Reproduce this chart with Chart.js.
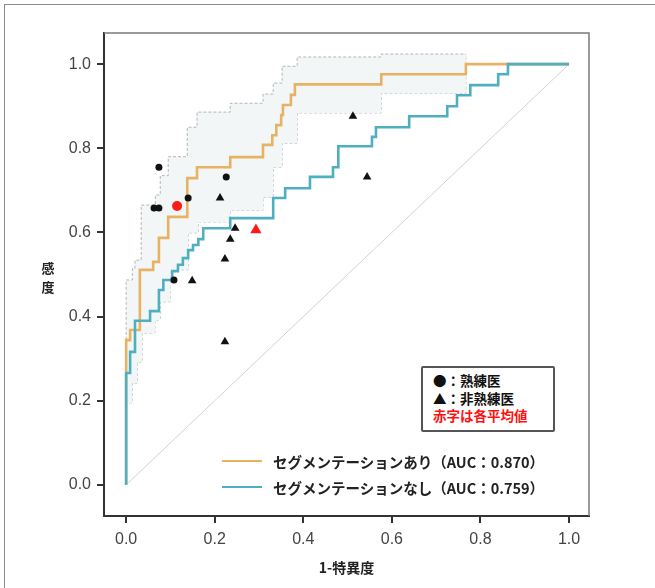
<!DOCTYPE html>
<html lang="ja">
<head>
<meta charset="utf-8">
<script src="https://cdn.jsdelivr.net/npm/chart.js@4.4.1/dist/chart.umd.min.js"></script>
<style>
  body { margin: 0; background: #fff; }
  #wrap { position: relative; width: 655px; height: 588px; overflow: hidden; }
  #roc { position: absolute; left: 0; top: 0; }
  .frame { position: absolute; left: 4px; top: 4px; width: 700px; height: 700px;
    border-left: 1.5px solid #8a8a8a; border-top: 1.5px solid #8a8a8a; }
  #ylab { position: absolute; left: 40px; top: 258px; width: 16px; line-height: 16px;
    font: bold 13px "Noto Sans CJK JP", sans-serif; color: #222; text-align: center; }
  #marks { position: absolute; left: 421px; top: 366px; width: 134px; height: 66px;
    border: 2px solid #555; border-radius: 2px; background: #fff;
    font: bold 13.5px "Noto Sans CJK JP", sans-serif; color: #111; line-height: 17.5px;
    padding: 4px 0 0 10px; box-sizing: border-box; }
  #marks .red { color: #ff1010; }
  #series { position: absolute; left: 222px; top: 448px;
    font: bold 14.5px "Noto Sans CJK JP", sans-serif; color: #222; }
  #series .row { height: 26px; display: flex; align-items: center; }
  #series .swatch { width: 40px; height: 2.5px; margin-right: 11px; }
</style>
</head>
<body>
<div id="wrap">
  <canvas id="roc" width="655" height="588"></canvas>
  <div class="frame"></div>
  <div id="ylab">感<br>度</div>
  <div id="marks">
    <div>●：熟練医</div>
    <div>▲：非熟練医</div>
    <div class="red">赤字は各平均値</div>
  </div>
  <div id="series"></div>
</div>
<script>
const TICKS = [0, 0.2, 0.4, 0.6, 0.8, 1.0];

// ROC step points (1-specificity, sensitivity), top-left corner of each step
const withSegFpr = [0, 0, 0.009, 0.031, 0.061, 0.074, 0.095, 0.138, 0.160, 0.235, 0.309, 0.330, 0.339, 0.350, 0.354, 0.372, 0.381, 0.576, 0.767, 1];
const withSegTpr = [0, 0.344, 0.368, 0.511, 0.530, 0.587, 0.637, 0.729, 0.755, 0.779, 0.808, 0.831, 0.855, 0.879, 0.903, 0.927, 0.952, 0.976, 1, 1];

const noSegFpr = [0, 0, 0.009, 0.020, 0.054, 0.074, 0.084, 0.104, 0.117, 0.128, 0.140, 0.151, 0.163, 0.174, 0.235, 0.332, 0.359, 0.415, 0.467, 0.479, 0.555, 0.564, 0.639, 0.725, 0.747, 0.777, 0.840, 0.862, 1];
const noSegTpr = [0, 0.266, 0.316, 0.390, 0.413, 0.463, 0.487, 0.508, 0.523, 0.539, 0.558, 0.570, 0.584, 0.610, 0.634, 0.682, 0.705, 0.732, 0.755, 0.805, 0.827, 0.850, 0.876, 0.900, 0.926, 0.950, 0.976, 1, 1];

// confidence band of the segmented curve
const bandUpFpr = [0, 0, 0.014, 0.020, 0.034, 0.066, 0.077, 0.095, 0.138, 0.160, 0.235, 0.309, 0.332, 0.352, 0.386, 0.576, 0.767];
const bandUpTpr = [0, 0.487, 0.515, 0.534, 0.665, 0.689, 0.735, 0.780, 0.850, 0.886, 0.907, 0.929, 0.955, 0.995, 1.017, 1.024, 1.024];
const bandLoFpr = [0, 0, 0.014, 0.025, 0.036, 0.065, 0.077, 0.099, 0.140, 0.163, 0.235, 0.309, 0.332, 0.352, 0.386, 0.576, 0.767];
const bandLoTpr = [0, 0.195, 0.242, 0.292, 0.361, 0.392, 0.435, 0.511, 0.599, 0.625, 0.653, 0.684, 0.755, 0.812, 0.884, 0.931, 1.024];

// readers
const expertFpr = [0.074, 0.063, 0.074, 0.140, 0.226, 0.108];
const expertTpr = [0.755, 0.658, 0.658, 0.682, 0.732, 0.487];
const novicesFpr = [0.212, 0.246, 0.235, 0.223, 0.149, 0.223, 0.512, 0.544];
const novicesTpr = [0.682, 0.610, 0.584, 0.537, 0.485, 0.340, 0.876, 0.732];
const expertMean = [0.115, 0.663];
const novicesMean = [0.293, 0.606];

const SERIES = [
  { label: 'セグメンテーションあり（AUC：0.870）', color: '#E8B264' },
  { label: 'セグメンテーションなし（AUC：0.759）', color: '#4EAFC1' }
];

const pts = (xs, ys) => xs.map((x, i) => ({ x, y: ys[i] }));

function fixedTicks(scale) {
  scale.ticks = TICKS.map(v => ({ value: v }));
}

const frame = {
  id: 'frame',
  afterDraw(chart) {
    const { ctx, chartArea: a } = chart;
    ctx.save();
    ctx.strokeStyle = '#7a7a7a';
    ctx.lineWidth = 1.5;
    ctx.beginPath();
    ctx.moveTo(a.left, a.top);
    ctx.lineTo(a.right, a.top);
    ctx.lineTo(a.right, a.bottom);
    ctx.stroke();
    ctx.restore();
  }
};

const dashed = { borderColor: '#b5b5b5', borderWidth: 1, borderDash: [3, 2], pointRadius: 0, stepped: true, showLine: true };

const datasets = [
  { data: [{ x: expertMean[0], y: expertMean[1] }], pointStyle: 'circle', pointRadius: 5, backgroundColor: '#ff1a1a', borderWidth: 0 },
  { data: [{ x: novicesMean[0], y: novicesMean[1] }], pointStyle: 'triangle', pointRadius: 6.5, backgroundColor: '#ff1a1a', borderWidth: 0 },
  { data: pts(expertFpr, expertTpr), pointStyle: 'circle', pointRadius: 3.5, backgroundColor: '#111', borderWidth: 0 },
  { data: pts(novicesFpr, novicesTpr), pointStyle: 'triangle', pointRadius: 5, backgroundColor: '#111', borderWidth: 0 },
  { data: pts(noSegFpr, noSegTpr), showLine: true, stepped: true, borderColor: SERIES[1].color, borderWidth: 2.6, pointRadius: 0 },
  { data: pts(withSegFpr, withSegTpr), showLine: true, stepped: true, borderColor: SERIES[0].color, borderWidth: 2.6, pointRadius: 0 },
  { data: [{ x: 0, y: 0 }, { x: 1, y: 1 }], showLine: true, borderColor: '#d2d2d2', borderWidth: 1, pointRadius: 0 },
  { ...dashed, data: pts(bandUpFpr, bandUpTpr), fill: { target: '+1', above: '#f3f6f6', below: '#f3f6f6' } },
  { ...dashed, data: pts(bandLoFpr, bandLoTpr) }
];

const tickFont = { family: '"Liberation Sans", Arial, sans-serif', size: 16 };

new Chart(document.getElementById('roc'), {
  type: 'scatter',
  data: { datasets },
  options: {
    responsive: false,
    animation: false,
    layout: { padding: { left: 0, top: 33, right: 66, bottom: 0 } },
    plugins: { legend: { display: false }, tooltip: { enabled: false } },
    scales: {
      x: {
        type: 'linear', min: -0.05, max: 1.045,
        afterBuildTicks: fixedTicks,
        afterFit: s => { s.height = 72; },
        grid: { drawOnChartArea: false, drawTicks: true, tickLength: 7, color: '#333', lineWidth: 2 },
        border: { display: true, color: '#333', width: 2 },
        ticks: { font: tickFont, color: '#444', padding: 7, callback: v => v.toFixed(1) },
        title: { display: true, text: '1-特異度', color: '#222',
          font: { family: '"Noto Sans CJK JP", sans-serif', size: 14, weight: 'bold' }, padding: { top: 4, bottom: 12 } }
      },
      y: {
        type: 'linear', min: -0.074, max: 1.074,
        afterBuildTicks: fixedTicks,
        afterFit: s => { s.width = 104; },
        grid: { drawOnChartArea: false, drawTicks: true, tickLength: 7, color: '#333', lineWidth: 2 },
        border: { display: true, color: '#333', width: 2 },
        ticks: { font: tickFont, color: '#444', padding: 6, callback: v => v.toFixed(1) }
      }
    }
  },
  plugins: [frame]
});

const series = document.getElementById('series');
SERIES.forEach(s => {
  series.innerHTML += `<div class="row"><span class="swatch" style="background:${s.color}"></span><span>${s.label}</span></div>`;
});
</script>
</body>
</html>
